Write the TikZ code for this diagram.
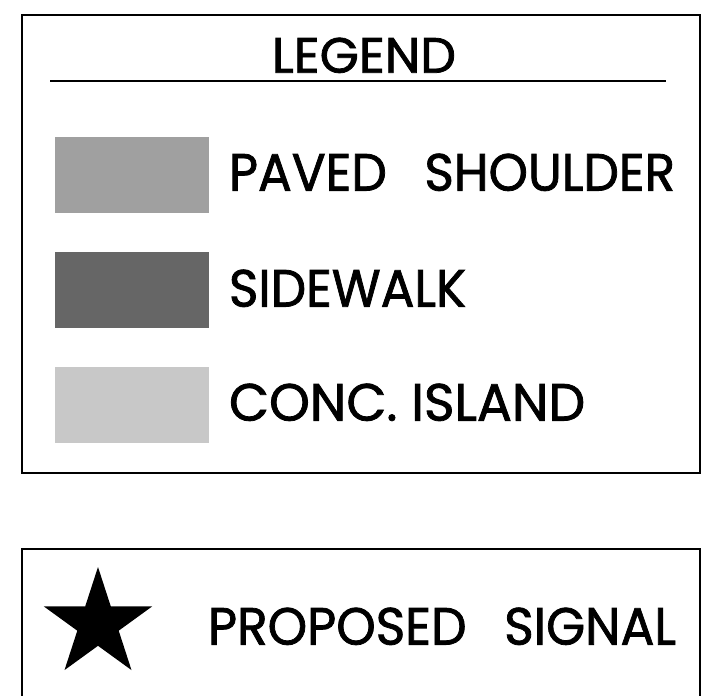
\documentclass[tikz,border=0pt]{standalone}
\usepackage{fontspec}
\setmainfont{Poppins}
\newfontfamily\lblfont{Poppins}[FakeBold=1.5]
\definecolor{paved}{HTML}{A0A0A0}
\definecolor{sidewalk}{HTML}{666666}
\definecolor{island}{HTML}{C8C8C8}
\begin{document}
\begin{tikzpicture}[x=1pt,y=-1pt,
  frame/.style={draw=black,line width=2pt},
  swatch/.style={inner sep=0pt,outer sep=0pt,minimum width=154pt,minimum height=76pt,anchor=north west},
  lbl/.style={anchor=south west,inner sep=0pt,outer sep=0pt,text=black,font=\lblfont}]
\useasboundingbox (0,0) rectangle (713,696);
% legend box
\draw[frame] (22,15) rectangle (700,473);
\node[lbl,anchor=south] (title) at (364,73) {\resizebox{184pt}{35pt}{LEGEND}};
\coordinate (ruleL) at (50,81);
\coordinate (ruleR) at (666,81);
\draw[line width=1.5pt] (ruleL) -- (ruleR);
% swatches
\node[swatch,fill=paved] (s1) at (55,137) {};
\node[swatch,fill=sidewalk] (s2) at (55,252) {};
\node[swatch,fill=island] (s3) at (55,367) {};
\node[lbl] (t1) at (229,191) {\resizebox{446pt}{37pt}{PAVED\hspace{0.75em}SHOULDER}};
\node[lbl] (t2) at (229,307) {\resizebox{237pt}{37pt}{SIDEWALK}};
\node[lbl] (t3) at (229,421) {\resizebox{356pt}{37pt}{CONC. ISLAND}};
% signal box
\draw[frame] (22,700) -- (22,549) -- (700,549) -- (700,700);
\fill[black] (98,567) -- (110.8,606.4) -- (152.2,606.4) -- (118.7,630.7) -- (131.5,670.1)
  -- (98,645.8) -- (64.5,670.1) -- (77.3,630.7) -- (43.8,606.4) -- (85.2,606.4) -- cycle;
\node[lbl] (t4) at (208,645) {\resizebox{468pt}{37pt}{PROPOSED\hspace{0.75em}SIGNAL}};
\end{tikzpicture}
\end{document}
